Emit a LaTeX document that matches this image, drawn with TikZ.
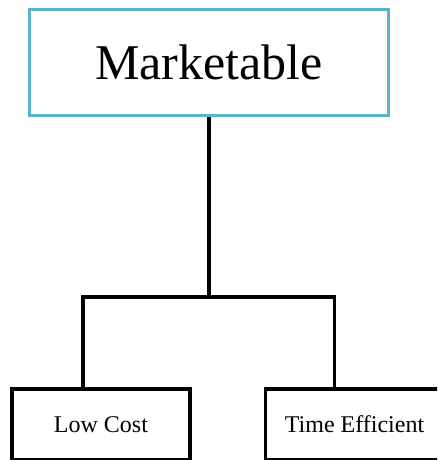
\documentclass[tikz,border=0pt]{standalone}
\usepackage{fontspec}
\setmainfont{Liberation Serif}
\usetikzlibrary{positioning}
\definecolor{aqua}{RGB}{86,180,206}
\tikzset{
    goal/.style={
        draw=aqua,
        rectangle,
        line width=3pt,
        minimum width=359pt,
        minimum height=106pt,
        inner sep=0pt,
        font=\fontsize{50}{60}\selectfont,
    },
    leaf/.style={
        draw,
        rectangle,
        line width=3.5pt,
        minimum width=178pt,
        minimum height=71pt,
        inner sep=0pt,
        font=\fontsize{24}{29}\selectfont,
    },
    branch/.style={line width=3.5pt}
}

\begin{document}
\begin{tikzpicture}
        \useasboundingbox (0,0) rectangle (437pt,-460pt);
        \clip (0,0) rectangle (437pt,-460pt);
        \node[goal] (top) at (209pt,-62.5pt) {Marketable};
        \node[leaf] (low) at (101pt,-424.5pt) {Low Cost};
        \node[leaf, right=72pt of low] (time) {Time Efficient};
        \coordinate (fork) at ([yshift=-180pt]top.south);
        \coordinate (lowjoin) at ([xshift=-18pt]low.north);
        \coordinate (timejoin) at ([xshift=-20pt]time.north);
        \draw[branch] (top.south) to (fork);
        \draw[branch] (lowjoin) |- (fork) -| (timejoin);
\end{tikzpicture}
\end{document}
